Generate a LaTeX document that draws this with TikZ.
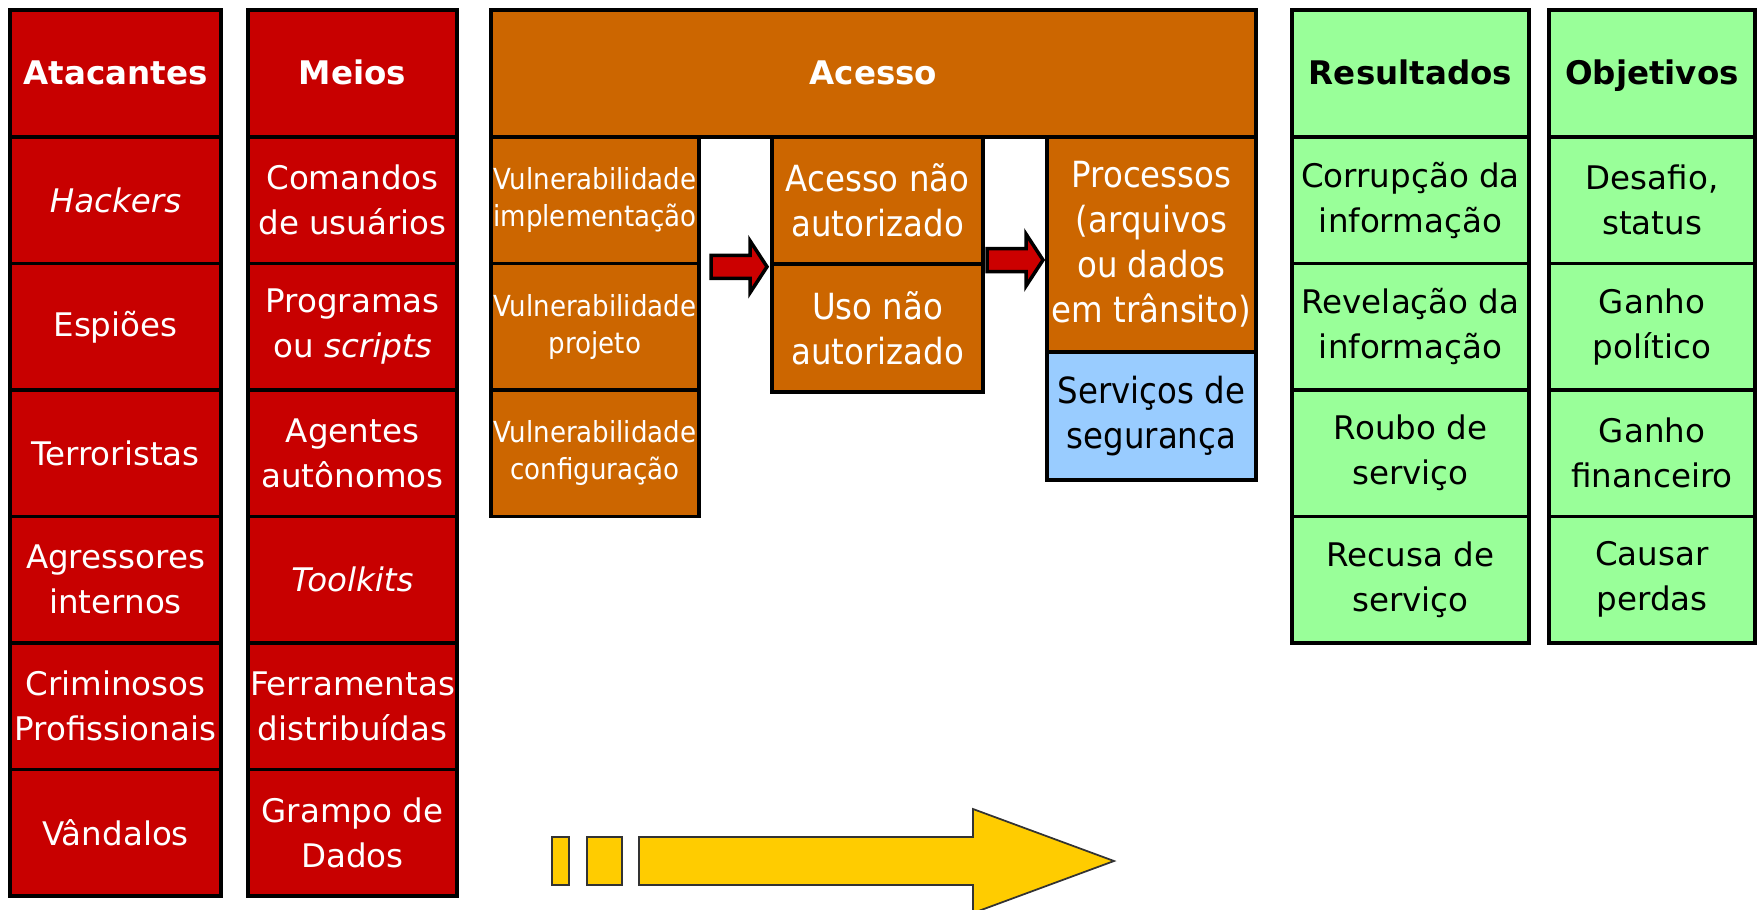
\documentclass[tikz,border=0pt]{standalone}
\usepackage{fontspec}
\setmainfont{DejaVu Sans}
\newfontfamily\narrowfont[FakeStretch=0.9]{DejaVu Sans}
\usetikzlibrary{positioning,calc}
\definecolor{atkred}{HTML}{C80000}
\definecolor{accorange}{HTML}{CC6600}
\definecolor{resgreen}{HTML}{99FF99}
\definecolor{secblue}{HTML}{99CCFF}
\definecolor{flowyellow}{HTML}{FFCC00}
\definecolor{arrowred}{HTML}{CC0000}
\begin{document}
\begin{tikzpicture}[node distance=0pt and 0.54cm,
box/.style={
% The shape:
rectangle,
draw=black,
line width=0.075cm,
inner sep=0pt,
outer sep=0pt,
align=center,
font=\fontsize{18.5}{25.6}\selectfont
},
atkbox/.style={box, fill=atkred, text=white, minimum width=4.22cm, minimum height=2.53cm},
meansbox/.style={atkbox, minimum width=4.18cm},
accbox/.style={box, fill=accorange, text=white, font=\narrowfont\fontsize{20.5}{25.6}\selectfont},
vulnbox/.style={accbox, minimum width=4.16cm, minimum height=2.53cm, font=\narrowfont\fontsize{16.5}{21}\selectfont},
resbox/.style={box, fill=resgreen, minimum width=4.74cm, minimum height=2.53cm},
goalbox/.style={resbox, minimum width=4.12cm},
head/.style={minimum height=2.54cm, text height=12.5pt, text depth=0pt, font=\bfseries\fontsize{18.5}{25.6}\selectfont},
flowarrow/.style={draw=black!80, line width=0.035cm, fill=flowyellow},
blockarrow/.pic={
\draw[line width=0.07cm, fill=arrowred] (-0.56,-0.23) -- (0.22,-0.23) -- (0.22,-0.52) -- (0.56,0) -- (0.22,0.52) -- (0.22,0.23) -- (-0.56,0.23) -- cycle;
}
]
\useasboundingbox (0,0) rectangle (35.14,-18.18);
% Attackers:
\node (atk) [atkbox, head, anchor=north west] at (0.2,-0.2) {Atacantes};
\node (atk1) [atkbox, below=of atk] {\textit{Hackers}};
\node (atk2) [atkbox, below=of atk1] {Espiões};
\node (atk3) [atkbox, below=of atk2] {Terroristas};
\node (atk4) [atkbox, below=of atk3] {Agressores\\internos};
\node (atk5) [atkbox, below=of atk4] {Criminosos\\Profissionais};
\node (atk6) [atkbox, below=of atk5] {Vândalos};
% Means:
\node (means) [meansbox, head, right=of atk] {Meios};
\node (means1) [meansbox, below=of means] {Comandos\\de usuários};
\node (means2) [meansbox, below=of means1] {Programas\\ou \textit{scripts}};
\node (means3) [meansbox, below=of means2] {Agentes\\autônomos};
\node (means4) [meansbox, below=of means3] {\textit{Toolkits}};
\node (means5) [meansbox, below=of means4] {Ferramentas\\distribuídas};
\node (means6) [meansbox, below=of means5] {Grampo de\\Dados};
% Access:
\node (acc) [accbox, head, minimum width=15.3cm, right=0.68cm of means] {Acesso};
\node (vuln1) [vulnbox, anchor=north west] at (acc.south west) {Vulnerabilidade\\implementação};
\node (vuln2) [vulnbox, below=of vuln1] {Vulnerabilidade\\projeto};
\node (vuln3) [vulnbox, below=of vuln2] {Vulnerabilidade\\configuração};
\node (unauth) [accbox, minimum width=4.22cm, minimum height=2.54cm, anchor=north west] at ([xshift=1.46cm]vuln1.north east) {Acesso não\\autorizado};
\node (misuse) [accbox, minimum width=4.22cm, minimum height=2.56cm, below=of unauth] {Uso não\\autorizado};
\node (proc) [accbox, minimum width=4.18cm, minimum height=4.30cm, anchor=north east] at (acc.south east) {Processos\\(arquivos\\ou dados\\em trânsito)};
\node (svc) [accbox, fill=secblue, text=black, minimum width=4.18cm, minimum height=2.56cm, below=of proc] {Serviços de\\segurança};
\coordinate (arrow1) at ($(vuln1.south east)!0.5!(unauth.south west)+(0.07,-0.06)$);
\coordinate (arrow2) at ($(unauth.south east)!0.5!(proc.west |- unauth.south)+(0,0.08)$);
\pic at (arrow1) {blockarrow};
\pic at (arrow2) {blockarrow};
% Results:
\node (res) [resbox, head, right=0.72cm of acc] {Resultados};
\node (res1) [resbox, below=of res] {Corrupção da\\informação};
\node (res2) [resbox, below=of res1] {Revelação da\\informação};
\node (res3) [resbox, below=of res2] {Roubo de\\serviço};
\node (res4) [resbox, below=of res3] {Recusa de\\serviço};
% Objectives:
\node (goal) [goalbox, head, right=0.4cm of res] {Objetivos};
\node (goal1) [goalbox, below=of goal] {Desafio,\\status};
\node (goal2) [goalbox, below=of goal1] {Ganho\\político};
\node (goal3) [goalbox, below=of goal2] {Ganho\\financeiro};
\node (goal4) [goalbox, below=of goal3] {Causar\\perdas};
% Flow arrow:
\draw[flowarrow] (11.04,-16.74) rectangle (11.38,-17.70);
\draw[flowarrow] (11.74,-16.74) rectangle (12.44,-17.70);
\draw[flowarrow] (12.78,-16.74) -- (19.46,-16.74) -- (19.46,-16.18) -- (22.28,-17.22) -- (19.46,-18.26) -- (19.46,-17.70) -- (12.78,-17.70) -- cycle;
\end{tikzpicture}
\end{document}
